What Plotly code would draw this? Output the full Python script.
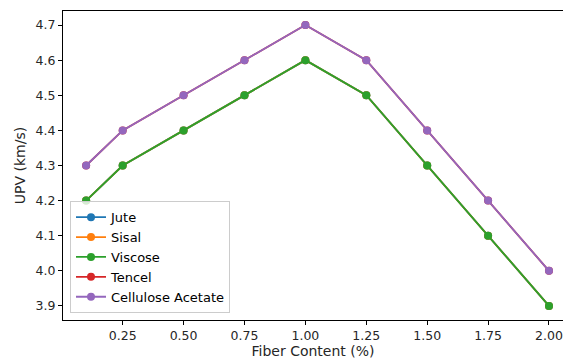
import plotly.graph_objects as go

fiber_content = [0.1, 0.25, 0.5, 0.75, 1.0, 1.25, 1.5, 1.75, 2.0]
jute = [4.2, 4.3, 4.4, 4.5, 4.6, 4.5, 4.3, 4.1, 3.9]
sisal = [4.2, 4.3, 4.4, 4.5, 4.6, 4.5, 4.3, 4.1, 3.9]
viscose = [4.2, 4.3, 4.4, 4.5, 4.6, 4.5, 4.3, 4.1, 3.9]
tencel = [4.3, 4.4, 4.5, 4.6, 4.7, 4.6, 4.4, 4.2, 4.0]
cellulose_acetate = [4.3, 4.4, 4.5, 4.6, 4.7, 4.6, 4.4, 4.2, 4.0]

x_ticks = [0.25, 0.5, 0.75, 1.0, 1.25, 1.5, 1.75, 2.0]
x_tick_labels = ["0.25", "0.50", "0.75", "1.00", "1.25", "1.50", "1.75", "2.00"]
y_ticks = [3.9, 4.0, 4.1, 4.2, 4.3, 4.4, 4.5, 4.6, 4.7]
y_tick_labels = ["3.9", "4.0", "4.1", "4.2", "4.3", "4.4", "4.5", "4.6", "4.7"]

series = [
    ("Jute", jute, "#1f77b4"),
    ("Sisal", sisal, "#ff7f0e"),
    ("Viscose", viscose, "#2ca02c"),
    ("Tencel", tencel, "#d62728"),
    ("Cellulose Acetate", cellulose_acetate, "#9467bd"),
]

fig = go.Figure()
for name, vals, color in series:
    fig.add_trace(go.Scatter(
        x=fiber_content, y=vals, name=name, mode="lines+markers",
        line=dict(color=color, width=1.8),
        marker=dict(color=color, size=8),
    ))

font = dict(family="DejaVu Sans", size=12, color="#262626")
tickfont = dict(family="DejaVu Sans", size=12.5, color="#262626")
fig.update_layout(
    width=563, height=362,
    margin=dict(l=63, r=0, t=11, b=42),
    paper_bgcolor="white", plot_bgcolor="white",
    font=font,
    showlegend=True,
    legend=dict(
        x=0.014, y=0.022, xanchor="left", yanchor="bottom",
        bgcolor="rgba(255,255,255,0.8)", bordercolor="#cccccc", borderwidth=1,
        font=dict(family="DejaVu Sans", size=13, color="black"),
        itemwidth=30,
    ),
    xaxis=dict(
        range=[0.005, 2.0575], tickvals=x_ticks, ticktext=x_tick_labels,
        tickfont=tickfont,
        showgrid=False, zeroline=False, showline=True, linecolor="black",
        linewidth=1, mirror=True, ticks="outside", ticklen=4, tickcolor="black",
        title=dict(text="Fiber Content (%)", standoff=4),
    ),
    yaxis=dict(
        range=[3.86, 4.74], tickvals=y_ticks, ticktext=y_tick_labels,
        tickfont=tickfont,
        showgrid=False, zeroline=False, showline=True, linecolor="black",
        linewidth=1, mirror=False, ticks="outside", ticklen=4, tickcolor="black",
        title=dict(text="UPV (km/s)", standoff=6),
    ),
)

fig.write_html(
    "out.html",
    config={"displayModeBar": False},
    post_script="document.body.style.margin='0px';document.body.style.overflow='hidden';",
)
